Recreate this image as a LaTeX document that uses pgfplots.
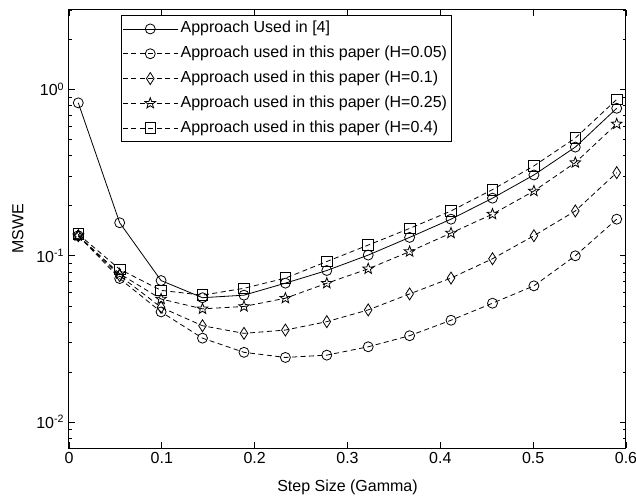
\documentclass[border=0pt]{standalone}
\usepackage{fontspec}
\setmainfont{Liberation Sans}
\usepackage{pgfplots}
\usepackage{pgfplotstable}
\pgfplotsset{compat=1.18}

\pgfdeclareplotmark{pentastar}{%
  \pgfpathmoveto{\pgfpointpolar{90}{\pgfplotmarksize}}%
  \pgfpathlineto{\pgfpointpolar{126}{0.42\pgfplotmarksize}}%
  \pgfpathlineto{\pgfpointpolar{162}{\pgfplotmarksize}}%
  \pgfpathlineto{\pgfpointpolar{198}{0.42\pgfplotmarksize}}%
  \pgfpathlineto{\pgfpointpolar{234}{\pgfplotmarksize}}%
  \pgfpathlineto{\pgfpointpolar{270}{0.42\pgfplotmarksize}}%
  \pgfpathlineto{\pgfpointpolar{306}{\pgfplotmarksize}}%
  \pgfpathlineto{\pgfpointpolar{342}{0.42\pgfplotmarksize}}%
  \pgfpathlineto{\pgfpointpolar{18}{\pgfplotmarksize}}%
  \pgfpathlineto{\pgfpointpolar{54}{0.42\pgfplotmarksize}}%
  \pgfpathclose
  \pgfusepathqstroke}

\pgfplotstableread{
x s1 h05 h10 h25 h40
0.01 0.83 0.132 0.132 0.132 0.135
0.0546 0.158 0.073 0.076 0.078 0.083
0.0992 0.071 0.046 0.049 0.055 0.062
0.1438 0.056 0.032 0.038 0.048 0.058
0.1885 0.058 0.0263 0.0342 0.0496 0.0638
0.2331 0.0685 0.0245 0.0358 0.0556 0.0734
0.2777 0.0816 0.0253 0.0402 0.0684 0.0924
0.3223 0.101 0.0284 0.0473 0.0835 0.116
0.3669 0.129 0.0331 0.059 0.106 0.146
0.4115 0.166 0.041 0.0735 0.137 0.186
0.4562 0.222 0.0519 0.096 0.178 0.25
0.5008 0.306 0.066 0.132 0.245 0.347
0.5454 0.45 0.100 0.186 0.363 0.51
0.59 0.77 0.166 0.316 0.62 0.87
}\datatable

\newcommand{\lbl}{\fontsize{12}{14}\selectfont}

\begin{document}
\begin{tikzpicture}
\useasboundingbox (-51.75pt,-36pt) rectangle (425.25pt,336pt);
\begin{axis}[
  at={(0,0)}, anchor=south west,
  scale only axis,
  width=417.75pt, height=328.5pt,
  ymode=log,
  xmin=0, xmax=0.6, ymin=0.007, ymax=3,
  xtick={0,0.1,0.2,0.3,0.4,0.5,0.6},
  xticklabels={0,0.1,0.2,0.3,0.4,0.5,0.6},
  ytick={0.01,0.1,1},
  yticklabels={10\textsuperscript{-2},10\textsuperscript{-1},10\textsuperscript{0}},
  minor ytick={0.007,0.008,0.009,0.02,0.03,0.04,0.05,0.06,0.07,0.08,0.09,0.2,0.3,0.4,0.5,0.6,0.7,0.8,0.9,2,3},
  tick align=inside,
  major tick length=4.5pt,
  minor tick length=2.5pt,
  every tick/.style={black, line width=0.6pt},
  axis line style={line width=0.75pt},
  tick label style={font=\lbl},
  label style={font=\lbl},
  xlabel={Step Size (Gamma)},
  ylabel={MSWE},
  xlabel style={at={(axis description cs:0.5,-0.089)}, anchor=center},
  ylabel style={at={(axis description cs:-0.092,0.5)}, anchor=center},
  legend cell align=left,
  legend style={at={(axis description cs:0.093,0.989)}, anchor=north west,
    draw=black, line width=0.6pt, font=\lbl, inner sep=1pt,
    nodes={text height=9pt, text depth=3pt, inner ysep=3.3pt}},
  legend image code/.code={\draw[mark repeat=2,mark phase=2,#1] plot coordinates {(0pt,0pt) (20.5pt,0pt) (41pt,0pt)};},
  every axis plot/.append style={black, line width=0.6pt},
  mark options={solid, fill=none},
]
\addplot[solid, mark=o, mark size=3.75pt] table[x=x,y=s1]{\datatable};
\addlegendentry{Approach Used in [4]}
\addplot[dash pattern=on 3.75pt off 2.6pt, mark=o, mark size=3.75pt] table[x=x,y=h05]{\datatable};
\addlegendentry{Approach used in this paper (H=0.05)}
\addplot[dash pattern=on 3.75pt off 2.6pt, mark=diamond, mark size=4.5pt, mark options={solid, fill=none, xscale=0.85}] table[x=x,y=h10]{\datatable};
\addlegendentry{Approach used in this paper (H=0.1)}
\addplot[dash pattern=on 3.75pt off 2.6pt, mark=pentastar, mark size=4.2pt] table[x=x,y=h25]{\datatable};
\addlegendentry{Approach used in this paper (H=0.25)}
\addplot[dash pattern=on 3.75pt off 2.6pt, mark=square, mark size=4pt] table[x=x,y=h40]{\datatable};
\addlegendentry{Approach used in this paper (H=0.4)}
\end{axis}
\end{tikzpicture}
\end{document}
